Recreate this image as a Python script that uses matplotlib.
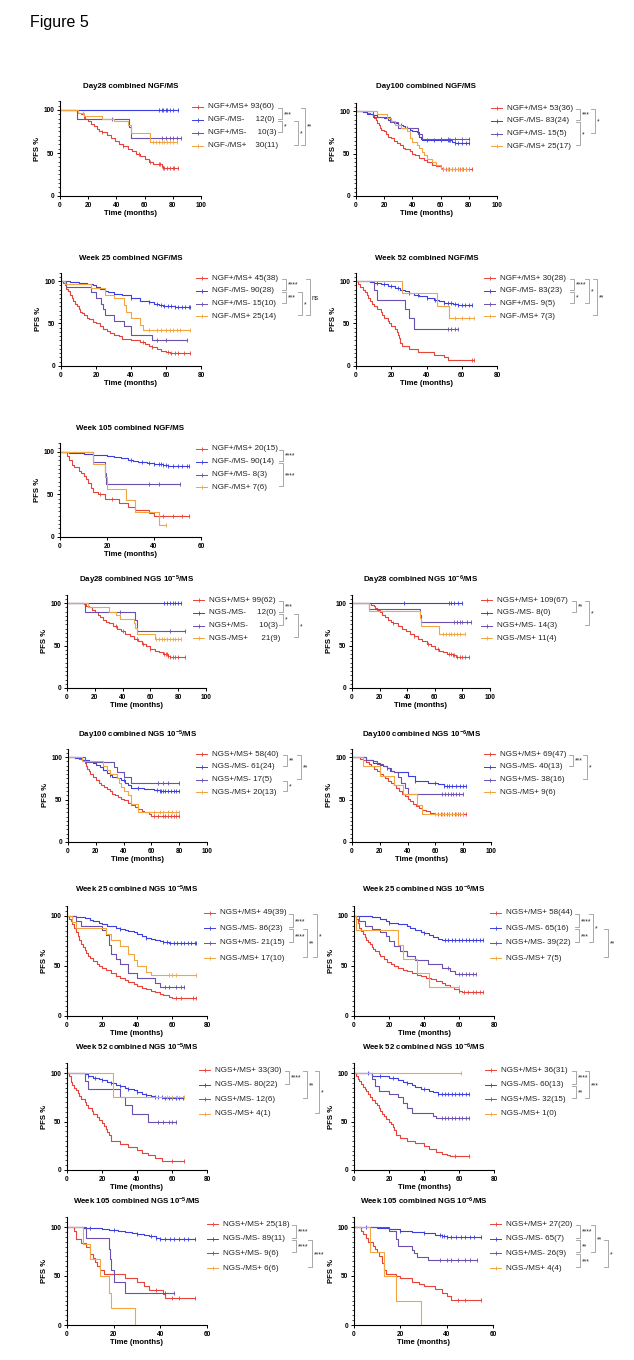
import bisect
import matplotlib
matplotlib.use("Agg")
import matplotlib.pyplot as plt
from matplotlib.ticker import MultipleLocator

plt.rcParams["font.family"] = ["Liberation Sans", "DejaVu Sans"]
plt.rcParams["mathtext.fontset"] = "custom"
plt.rcParams["mathtext.rm"] = "Liberation Sans"
plt.rcParams["mathtext.bf"] = "Liberation Sans:bold"
plt.rcParams["mathtext.default"] = "bf"

W, H = 634, 1360
groups = ["red", "blue", "purple", "orange"]
colors = ["#e8433a", "#3b3fe0", "#6a50b0", "#f2a541"]

########  data: (time, PFS %) after each drop, censor times  ########

d28_ngf_title = "Day28 combined NGF/MS"
d28_ngf_labels = ["NGF+/MS+ 93(60)", "NGF-/MS-     12(0)", "NGF+/MS-     10(3)", "NGF-/MS+    30(11)"]
d28_ngf_red = [(12, 99), (13, 97), (15, 95), (17, 92), (18, 90), (20, 87), (22, 84), (24, 81), (26, 78), (28, 76),
               (30, 74), (33, 71), (36, 67), (39, 64), (42, 61), (45, 58), (48, 55), (51, 52), (54, 49), (57, 46),
               (60, 43), (63, 40), (66, 37), (72, 35), (73, 33), (75, 32)]
d28_ngf_red_c = [17, 30, 45, 56, 64, 70, 71, 72, 73, 74, 76, 78, 80, 81, 84]
d28_ngf_blue = []
d28_ngf_blue_c = [70, 72, 73, 75, 76, 78, 80, 84]
d28_ngf_purple = [(12, 90), (49, 80), (50, 68)]
d28_ngf_purple_c = [37, 72, 75, 78, 80, 83, 86]
d28_ngf_orange = [(13, 97), (17, 93), (30, 90), (38, 87), (48, 83), (50, 73), (64, 63)]
d28_ngf_orange_c = [16, 66, 68, 70, 72, 74, 76, 78, 80, 83]
d28_ngf_sig = [(0, 1, "***"), (1, 2, "*"), (1, 3, "*"), (0, 3, "**")]

d100_ngf_title = "Day100 combined NGF/MS"
d100_ngf_labels = ["NGF+/MS+ 53(36)", "NGF-/MS- 83(24)", "NGF+/MS- 15(5)", "NGF-/MS+ 25(17)"]
d100_ngf_red = [(8, 98), (10, 96), (12, 94), (13, 92), (14, 89), (15, 86), (16, 83), (17, 80), (18, 78), (20, 76),
                (21, 73), (23, 70), (25, 68), (27, 65), (29, 62), (31, 60), (33, 57), (35, 55), (38, 53), (40, 50),
                (42, 48), (45, 45), (48, 42), (50, 40), (54, 37), (57, 35), (60, 33), (61, 32)]
d100_ngf_red_c = [62, 64, 66, 68, 70, 72, 74, 76, 78, 80, 82]
d100_ngf_blue = [(5, 99), (8, 97), (12, 95), (15, 93), (20, 92), (23, 90), (25, 88), (27, 86), (30, 84), (33, 82),
                 (35, 80), (38, 78), (40, 76), (43, 75), (45, 70), (46, 67), (47, 66), (68, 63), (70, 62)]
d100_ngf_blue_c = [28, 32, 36, 50, 55, 60, 65, 66, 67, 70, 72, 75, 78, 80]
d100_ngf_purple = [(12, 93), (24, 87), (30, 80), (44, 73), (47, 67)]
d100_ngf_purple_c = [60, 65, 70, 75, 80]
d100_ngf_orange = [(15, 96), (22, 92), (25, 88), (28, 84), (32, 80), (36, 76), (38, 68), (40, 64), (43, 60), (45, 56),
                   (47, 52), (48, 48), (50, 44), (54, 40), (57, 36), (60, 32)]
d100_ngf_orange_c = [62, 65, 68, 70, 72, 75, 78, 80]
d100_ngf_sig = [(0, 1, "***"), (1, 3, "*"), (0, 2, "*")]

w25_ngf_title = "Week 25 combined NGF/MS"
w25_ngf_labels = ["NGF+/MS+ 45(38)", "NGF-/MS- 90(28)", "NGF+/MS- 15(10)", "NGF-/MS+ 25(14)"]
w25_ngf_red = [(1, 98), (2, 95), (3, 91), (4, 88), (5, 84), (6, 80), (7, 77), (8, 73), (9, 70), (10, 67), (11, 64),
               (12, 62), (13, 60), (15, 57), (16, 55), (18, 52), (20, 50), (22, 47), (24, 44), (26, 41), (28, 39),
               (30, 37), (33, 35), (35, 32), (40, 30), (45, 28), (48, 26), (50, 24), (52, 22), (55, 20), (57, 18),
               (60, 16), (62, 15)]
w25_ngf_red_c = [47, 52, 61, 63, 65, 67, 70, 74]
w25_ngf_blue = [(5, 99), (10, 98), (15, 97), (18, 95), (20, 93), (22, 91), (25, 88), (27, 87), (30, 85), (35, 83),
                (40, 80), (45, 77), (50, 75), (53, 73), (56, 72), (58, 71), (60, 70), (65, 69)]
w25_ngf_blue_c = [30, 40, 50, 55, 57, 59, 61, 63, 65, 67, 69, 71, 73, 74]
w25_ngf_purple = [(3, 93), (17, 87), (20, 80), (23, 73), (24, 67), (25, 60), (30, 53), (36, 47), (40, 37), (52, 30)]
w25_ngf_purple_c = [55, 60, 72]
w25_ngf_orange = [(2, 96), (17, 92), (25, 84), (30, 80), (36, 72), (37, 64), (40, 56), (45, 48), (47, 42)]
w25_ngf_orange_c = [50, 55, 57, 60, 62, 64, 66, 68, 74]
w25_ngf_sig = [(0, 1, "****"), (1, 2, "***"), (1, 3, "*"), (0, 3, "ns")]

w52_ngf_title = "Week 52 combined NGF/MS"
w52_ngf_labels = ["NGF+/MS+ 30(28)", "NGF-/MS- 83(23)", "NGF+/MS- 9(5)", "NGF-/MS+ 7(3)"]
w52_ngf_red = [(1, 97), (2, 93), (4, 90), (5, 87), (6, 83), (7, 80), (8, 77), (9, 73), (10, 70), (12, 67), (14, 63),
               (15, 60), (16, 57), (18, 53), (19, 50), (20, 47), (22, 43), (23, 40), (24, 37), (24.5, 33), (25, 27),
               (26, 23), (30, 20), (35, 17), (44, 13), (50, 10), (52, 7)]
w52_ngf_red_c = [66, 67]
w52_ngf_blue = [(8, 99), (10, 98), (14, 96), (18, 94), (22, 92), (25, 90), (28, 88), (30, 86), (33, 84), (36, 82),
                (40, 80), (44, 78), (47, 76), (50, 74), (55, 73), (58, 72)]
w52_ngf_blue_c = [12, 16, 20, 24, 30, 35, 40, 45, 50, 52, 54, 56, 58, 60, 62, 64, 66]
w52_ngf_purple = [(10, 89), (12, 78), (28, 67), (30, 56), (33, 44)]
w52_ngf_purple_c = [52, 54, 56, 58]
w52_ngf_orange = [(26, 86), (46, 71), (53, 57)]
w52_ngf_orange_c = [56, 60, 64, 67]
w52_ngf_sig = [(0, 1, "****"), (1, 2, "*"), (0, 2, "*"), (0, 3, "**")]

w105_ngf_title = "Week 105 combined NGF/MS"
w105_ngf_labels = ["NGF+/MS+ 20(15)", "NGF-/MS- 90(14)", "NGF+/MS- 8(3)", "NGF-/MS+ 7(6)"]
w105_ngf_red = [(3, 95), (4, 90), (5, 85), (6, 82), (8, 78), (9, 75), (10, 72), (11, 68), (12, 63), (13, 58),
                (14, 53), (16, 50), (19, 45), (25, 40), (29, 35), (32, 32), (38, 28), (40, 25)]
w105_ngf_red_c = [17, 22, 44, 48, 52, 55]
w105_ngf_blue = [(4, 99), (10, 98), (14, 97), (17, 96), (20, 95), (23, 94), (26, 93), (29, 91), (31, 89), (33, 88),
                 (37, 87), (40, 86), (44, 85), (46, 84)]
w105_ngf_blue_c = [30, 35, 38, 40, 42, 43, 44, 45, 46, 48, 50, 52, 54, 55]
w105_ngf_purple = [(14, 88), (19, 75), (19.5, 62)]
w105_ngf_purple_c = [38, 42, 51]
w105_ngf_orange = [(14, 86), (19, 71), (20, 57), (28, 43), (32, 29), (42, 14)]
w105_ngf_orange_c = [45]
w105_ngf_sig = [(0, 1, "****"), (1, 3, "****")]

d28_ngs5_title = "Day28 combined NGS 10$^{-5}$/MS"
d28_ngs5_labels = ["NGS+/MS+ 99(62)", "NGS-/MS-     12(0)", "NGS+/MS-     10(3)", "NGS-/MS+      21(9)"]
d28_ngs5_red = [(12, 99), (14, 97), (16, 95), (18, 92), (20, 89), (22, 86), (24, 83), (26, 80), (28, 78), (30, 76),
                (33, 73), (36, 70), (39, 67), (42, 64), (45, 61), (48, 58), (51, 55), (54, 52), (57, 49), (60, 46),
                (63, 44), (66, 42), (69, 40), (73, 38), (74, 36)]
d28_ngs5_red_c = [35, 40, 50, 55, 60, 70, 71, 72, 73, 74, 76, 78, 80, 85]
d28_ngs5_blue = []
d28_ngs5_blue_c = [70, 72, 74, 76, 78, 80, 82]
d28_ngs5_purple = [(13, 90), (49, 80), (50, 67)]
d28_ngs5_purple_c = [38, 74, 85]
d28_ngs5_orange = [(15, 95), (30, 90), (35, 86), (38, 81), (48, 76), (49, 71), (50, 63), (63, 58)]
d28_ngs5_orange_c = [64, 66, 68, 70, 72, 74, 76, 78, 80, 82]
d28_ngs5_sig = [(0, 1, "***"), (1, 2, "*"), (1, 3, "*")]

d28_ngs6_title = "Day28 combined NGS 10$^{-6}$/MS"
d28_ngs6_labels = ["NGS+/MS+ 109(67)", "NGS-/MS- 8(0)", "NGS+/MS- 14(3)", "NGS-/MS+ 11(4)"]
d28_ngs6_red = [(14, 98), (16, 96), (17, 94), (18, 92), (20, 89), (22, 86), (24, 83), (26, 80), (28, 78), (30, 76),
                (33, 73), (36, 70), (39, 67), (42, 64), (45, 61), (48, 58), (51, 55), (54, 52), (57, 49), (60, 46),
                (63, 44), (66, 42), (69, 40), (73, 39), (75, 37)]
d28_ngs6_red_c = [30, 45, 55, 62, 70, 72, 73, 74, 76, 78, 80, 82, 85]
d28_ngs6_blue = []
d28_ngs6_blue_c = [38, 70, 72, 74, 77, 80]
d28_ngs6_purple = [(12, 93), (49, 86), (50, 78)]
d28_ngs6_purple_c = [74, 76, 78, 80, 83, 86]
d28_ngs6_orange = [(12, 91), (49, 82), (50, 73), (63, 64)]
d28_ngs6_orange_c = [66, 68, 70, 72, 74, 76, 78, 82]
d28_ngs6_sig = [(0, 1, "**"), (0, 2, "*")]

d100_ngs5_title = "Day100 combined NGS 10$^{-5}$/MS"
d100_ngs5_labels = ["NGS+/MS+ 58(40)", "NGS-/MS- 61(24)", "NGS+/MS- 17(5)", "NGS-/MS+ 20(13)"]
d100_ngs5_red = [(8, 98), (10, 96), (12, 93), (13, 90), (14, 86), (15, 83), (16, 80), (18, 77), (20, 73), (22, 70),
                 (24, 67), (26, 65), (28, 62), (30, 60), (32, 57), (34, 55), (36, 53), (38, 51), (40, 49), (43, 46),
                 (45, 43), (48, 41), (50, 39), (53, 37), (55, 35), (58, 33), (60, 31)]
d100_ngs5_red_c = [62, 65, 68, 70, 72, 74, 76, 78, 80]
d100_ngs5_blue = [(5, 99), (10, 97), (15, 95), (18, 93), (20, 91), (23, 88), (25, 85), (28, 81), (30, 79), (32, 77),
                  (35, 75), (38, 73), (41, 70), (43, 67), (45, 64), (55, 62), (62, 61), (66, 60)]
d100_ngs5_blue_c = [30, 40, 50, 64, 66, 67, 68, 70, 72, 74, 76, 78, 80]
d100_ngs5_purple = [(12, 94), (33, 88), (35, 82), (40, 76), (45, 70)]
d100_ngs5_purple_c = [65, 68, 72, 80]
d100_ngs5_orange = [(10, 95), (25, 90), (28, 85), (30, 80), (35, 75), (37, 70), (38, 65), (40, 60), (43, 55),
                    (45, 45), (50, 35)]
d100_ngs5_orange_c = [62, 66, 68, 72, 75, 78, 80]
d100_ngs5_sig = [(0, 1, "**"), (2, 3, "*"), (0, 2, "**")]

d100_ngs6_title = "Day100 combined NGS 10$^{-6}$/MS"
d100_ngs6_labels = ["NGS+/MS+ 69(47)", "NGS-/MS- 40(13)", "NGS+/MS- 38(16)", "NGS-/MS+ 9(6)"]
d100_ngs6_red = [(6, 98), (8, 96), (10, 94), (12, 92), (14, 89), (16, 86), (18, 83), (20, 80), (22, 78), (24, 75),
                 (26, 72), (28, 70), (30, 67), (32, 63), (34, 60), (36, 57), (38, 54), (40, 51), (42, 48), (44, 45),
                 (46, 42), (48, 40), (50, 38), (53, 36), (56, 34), (60, 33)]
d100_ngs6_red_c = [62, 64, 66, 68, 70, 72, 74, 76, 78, 80, 82]
d100_ngs6_blue = [(10, 97), (15, 93), (20, 91), (22, 90), (25, 87), (27, 84), (30, 82), (40, 78), (45, 72), (55, 70),
                  (62, 68), (66, 66)]
d100_ngs6_blue_c = [25, 45, 60, 66, 68, 70, 72, 75, 78, 80, 82]
d100_ngs6_purple = [(10, 97), (15, 95), (18, 92), (22, 90), (25, 87), (28, 84), (30, 82), (33, 76), (35, 70),
                    (38, 63), (40, 57)]
d100_ngs6_purple_c = [65, 67, 69, 71, 73, 75, 77, 80]
d100_ngs6_orange = [(8, 89), (20, 78), (30, 67), (37, 56), (47, 44), (50, 33)]
d100_ngs6_orange_c = [60, 65, 70, 75, 80]
d100_ngs6_sig = [(0, 1, "***"), (0, 2, "*")]

w25_ngs5_title = "Week 25 combined NGS 10$^{-5}$/MS"
w25_ngs5_labels = ["NGS+/MS+ 49(39)", "NGS-/MS- 86(23)", "NGS+/MS- 21(15)", "NGS-/MS+ 17(10)"]
w25_ngs5_red = [(1, 97), (2, 95), (3, 92), (4, 88), (5, 84), (6, 80), (7, 76), (8, 72), (9, 69), (10, 66), (11, 63),
                (12, 60), (13, 58), (15, 55), (17, 52), (18, 50), (20, 48), (22, 46), (25, 43), (28, 40), (30, 38),
                (33, 36), (35, 34), (38, 32), (40, 30), (43, 28), (45, 27), (48, 25), (50, 24), (53, 22), (55, 21),
                (58, 19), (60, 18)]
w25_ngs5_red_c = [62, 65, 72, 74]
w25_ngs5_blue = [(5, 99), (10, 98), (13, 96), (15, 95), (18, 93), (20, 92), (23, 90), (28, 88), (30, 87), (33, 86),
                 (35, 85), (38, 84), (40, 82), (43, 80), (45, 78), (48, 77), (50, 76), (53, 75), (55, 74), (58, 73)]
w25_ngs5_blue_c = [30, 45, 55, 57, 59, 61, 63, 65, 67, 69, 71, 73, 74]
w25_ngs5_purple = [(5, 95), (8, 90), (20, 86), (22, 81), (24, 71), (25, 62), (28, 57), (30, 52), (35, 43), (40, 38),
                   (50, 33), (53, 29)]
w25_ngs5_purple_c = [56, 58, 62, 65, 67]
w25_ngs5_orange = [(3, 94), (5, 88), (22, 82), (25, 76), (30, 70), (35, 62), (38, 56), (40, 50), (45, 44), (48, 41)]
w25_ngs5_orange_c = [58, 60, 62, 74]
w25_ngs5_sig = [(0, 1, "****"), (1, 2, "****"), (1, 3, "**"), (0, 3, "*")]

w25_ngs6_title = "Week 25 combined NGS 10$^{-6}$/MS"
w25_ngs6_labels = ["NGS+/MS+ 58(44)", "NGS-/MS- 65(16)", "NGS+/MS- 39(22)", "NGS-/MS+ 7(5)"]
w25_ngs6_red = [(1, 97), (2, 93), (3, 88), (4, 85), (5, 82), (6, 79), (7, 76), (8, 74), (9, 72), (10, 69), (11, 67),
                (12, 65), (14, 62), (15, 60), (17, 57), (19, 54), (21, 52), (23, 50), (25, 48), (28, 46), (30, 45),
                (33, 43), (36, 41), (38, 40), (41, 38), (44, 37), (47, 35), (50, 33), (52, 31), (55, 29), (57, 27),
                (60, 25), (62, 24)]
w25_ngs6_red_c = [60, 63, 65, 68, 70, 72, 74]
w25_ngs6_blue = [(10, 99), (15, 97), (18, 95), (20, 93), (25, 92), (30, 90), (32, 88), (35, 86), (38, 84), (40, 83),
                 (43, 81), (45, 79), (48, 77), (50, 76)]
w25_ngs6_blue_c = [20, 40, 52, 54, 56, 58, 60, 62, 64, 66, 68, 70, 72, 74]
w25_ngs6_purple = [(3, 95), (6, 90), (10, 87), (15, 84), (18, 80), (20, 75), (23, 70), (26, 65), (30, 60), (35, 56),
                   (42, 52), (50, 48), (55, 45), (58, 42)]
w25_ngs6_purple_c = [54, 60, 62, 64, 66, 68, 70]
w25_ngs6_orange = [(1, 86), (25, 71), (28, 57), (36, 43), (43, 29)]
w25_ngs6_orange_c = [60]
w25_ngs6_sig = [(0, 1, "****"), (1, 2, "***"), (0, 2, "*"), (1, 3, "**")]

w52_ngs5_title = "Week 52 combined NGS 10$^{-5}$/MS"
w52_ngs5_labels = ["NGS+/MS+ 33(30)", "NGS-/MS- 80(22)", "NGS+/MS- 12(6)", "NGS-/MS+ 4(1)"]
w52_ngs5_red = [(1, 97), (2, 91), (3, 88), (4, 85), (5, 82), (6, 79), (7, 76), (8, 73), (10, 70), (11, 67), (12, 64),
                (14, 61), (15, 58), (17, 55), (18, 52), (20, 48), (21, 45), (22, 42), (23, 39), (24, 36), (25, 30),
                (30, 27), (35, 24), (40, 21), (43, 18), (46, 15), (50, 12), (54, 9)]
w52_ngs5_red_c = [60, 67]
w52_ngs5_blue = [(10, 99), (12, 97), (15, 95), (18, 94), (20, 93), (23, 91), (25, 90), (28, 88), (30, 87), (33, 85),
                 (35, 84), (38, 82), (40, 80), (43, 78), (45, 77), (48, 76), (50, 75), (55, 74)]
w52_ngs5_blue_c = [12, 16, 20, 25, 30, 35, 40, 45, 50, 52, 54, 56, 58, 60, 62, 64, 66]
w52_ngs5_purple = [(10, 92), (12, 83), (30, 75), (33, 67), (37, 58), (46, 50)]
w52_ngs5_purple_c = [52, 55, 58, 60, 62]
w52_ngs5_orange = [(26, 75)]
w52_ngs5_orange_c = [57, 60, 63, 67]
w52_ngs5_sig = [(0, 1, "****"), (0, 2, "**"), (0, 3, "*")]

w52_ngs6_title = "Week 52 combined NGS 10$^{-6}$/MS"
w52_ngs6_labels = ["NGS+/MS+ 36(31)", "NGS-/MS- 60(13)", "NGS+/MS- 32(15)", "NGS-/MS+ 1(0)"]
w52_ngs6_red = [(1, 97), (2, 94), (3, 92), (4, 89), (5, 86), (6, 83), (7, 81), (8, 78), (9, 75), (10, 72), (12, 69),
                (13, 67), (14, 64), (15, 61), (16, 58), (17, 56), (18, 53), (20, 50), (21, 47), (22, 44), (23, 41),
                (24, 36), (26, 33), (30, 30), (35, 28), (40, 25), (43, 22), (47, 19), (50, 17), (53, 15), (55, 14)]
w52_ngs6_red_c = [58, 66]
w52_ngs6_blue = [(10, 97), (20, 95), (25, 93), (28, 91), (30, 90), (33, 88), (35, 86), (38, 84), (40, 83), (43, 81),
                 (45, 80), (48, 78)]
w52_ngs6_blue_c = [8, 15, 22, 30, 40, 48, 50, 52, 54, 56, 58, 60, 62, 64, 66]
w52_ngs6_purple = [(10, 94), (12, 87), (14, 81), (20, 78), (25, 75), (28, 69), (30, 64), (33, 59), (45, 56), (47, 54)]
w52_ngs6_purple_c = [50, 52, 54, 56, 58, 60, 62, 64, 66]
w52_ngs6_orange = []
w52_ngs6_orange_c = [61]
w52_ngs6_sig = [(0, 1, "****"), (1, 2, "**"), (0, 2, "***")]

w105_ngs5_title = "Week 105 combined NGS 10$^{-5}$/MS"
w105_ngs5_labels = ["NGS+/MS+ 25(18)", "NGS-/MS- 89(11)", "NGS+/MS- 9(6)", "NGS-/MS+ 6(6)"]
w105_ngs5_red = [(3, 96), (4, 88), (6, 84), (8, 80), (10, 72), (11, 68), (12, 64), (13, 60), (14, 56), (16, 52),
                 (25, 48), (30, 44), (33, 40), (35, 36), (41, 32), (42, 28)]
w105_ngs5_red_c = [20, 38, 45, 48, 55]
w105_ngs5_blue = [(7, 99), (15, 98), (18, 97), (22, 96), (25, 95), (28, 94), (30, 93), (33, 92), (35, 91), (38, 89),
                  (40, 88)]
w105_ngs5_blue_c = [10, 20, 30, 36, 38, 40, 42, 44, 46, 48, 50, 52, 55]
w105_ngs5_purple = [(8, 89), (18, 78), (18.5, 67), (19, 56), (20, 44), (25, 33)]
w105_ngs5_purple_c = [42, 46]
w105_ngs5_orange = [(7, 83), (10, 67), (14, 50), (18, 33), (19, 17), (29, 0)]
w105_ngs5_orange_c = []
w105_ngs5_sig = [(0, 1, "****"), (1, 2, "****"), (1, 3, "****")]

w105_ngs6_title = "Week 105 combined NGS 10$^{-6}$/MS"
w105_ngs6_labels = ["NGS+/MS+ 27(20)", "NGS-/MS- 65(7)", "NGS+/MS- 26(9)", "NGS-/MS+ 4(4)"]
w105_ngs6_red = [(3, 96), (4, 93), (5, 89), (6, 85), (8, 81), (9, 78), (10, 74), (11, 70), (12, 63), (13, 56),
                 (14, 52), (18, 50), (20, 48), (25, 44), (28, 42), (30, 40), (35, 37), (38, 33), (40, 30), (42, 26)]
w105_ngs6_red_c = [45, 48, 55]
w105_ngs6_blue = [(10, 99), (15, 98), (20, 96), (25, 95), (30, 94), (35, 92), (38, 91), (40, 90)]
w105_ngs6_blue_c = [5, 20, 30, 37, 38, 39, 40, 42, 44, 46, 48, 50, 52, 55]
w105_ngs6_purple = [(15, 96), (18, 88), (19, 81), (25, 77), (26, 73), (27, 69), (32, 66)]
w105_ngs6_purple_c = [37, 40, 42, 45, 48, 50, 53]
w105_ngs6_orange = [(7, 75), (13, 50), (18, 25), (29, 0)]
w105_ngs6_orange_c = []
w105_ngs6_sig = [(0, 1, "****"), (1, 2, "**"), (2, 3, "***"), (0, 2, "**"), (1, 3, "*")]

########  layout in pixels: key, xmax, (x0, x1, y100, y0), title y, legend x, bracket x  ########

layout = [
    ("d28_ngf", 100, (60, 201, 110, 196), 87, 208, [282, 282, 298, 305]),
    ("d100_ngf", 100, (356, 497, 111, 196), 87, 507, [580, 580, 595]),
    ("w25_ngf", 80, (61, 201, 281, 366), 258, 212, [286, 286, 302, 310]),
    ("w52_ngf", 80, (356, 497, 281, 366), 258, 500, [574, 574, 589, 597]),
    ("w105_ngf", 60, (60, 201, 452, 537), 428, 212, [283, 283]),
    ("d28_ngs5", 100, (67, 206, 603, 688), 580, 209, [283, 283, 298]),
    ("d28_ngs6", 100, (352, 490, 603, 688), 580, 497, [576, 589]),
    ("d100_ngs5", 100, (68, 207, 757, 842), 735, 212, [287, 287, 301]),
    ("d100_ngs6", 100, (352, 491, 757, 842), 735, 500, [573, 587]),
    ("w25_ngs5", 80, (67, 207, 916, 1016), 889, 220, [293, 293, 307, 317]),
    ("w25_ngs6", 80, (354, 494, 916, 1016), 889, 506, [579, 579, 593, 608]),
    ("w52_ngs5", 80, (67, 207, 1073, 1170), 1047, 215, [289, 307, 319]),
    ("w52_ngs6", 80, (354, 494, 1073, 1170), 1047, 501, [576, 576, 589]),
    ("w105_ngs5", 60, (67, 207, 1227, 1325), 1201, 223, [296, 296, 312]),
    ("w105_ngs6", 60, (354, 493, 1227, 1325), 1201, 506, [580, 580, 580, 595, 608]),
]

fig = plt.figure(figsize=(W / 100, H / 100), dpi=100)
ov = fig.add_axes([0, 0, 1, 1])
ov.set_xlim(0, W)
ov.set_ylim(H, 0)
ov.axis("off")
ov.set_zorder(10)

ov.text(30, 22, "Figure 5", fontsize=11.5, va="center", ha="left")

for key, xmax, box, title_y, leg_x, sig_x in layout:
    x0, x1, y100, y0 = box
    top = y100 - 0.1 * (y0 - y100)
    ax = fig.add_axes([x0 / W, 1 - y0 / H, (x1 - x0) / W, (y0 - top) / H])
    ax.patch.set_visible(False)

    for name, col in zip(groups, colors):
        steps = globals()[key + "_" + name]
        cens = globals()[key + "_" + name + "_c"]
        t = [0] + [p[0] for p in steps]
        s = [100] + [p[1] for p in steps]
        end = max([t[-1]] + cens)
        t.append(end)
        s.append(s[-1])
        ax.step(t, s, where="post", color=col, lw=0.8, clip_on=False)
        cy = [s[bisect.bisect_right(t, c) - 1] for c in cens]
        ax.plot(cens, cy, "|", color=col, ms=2.6, mew=0.6, clip_on=False)

    ax.set_xlim(0, xmax)
    ax.set_ylim(0, 110)
    ax.set_xticks(range(0, xmax + 1, 20))
    ax.set_yticks([0, 50, 100])
    ax.yaxis.set_minor_locator(MultipleLocator(5))
    for sp in ["top", "right"]:
        ax.spines[sp].set_visible(False)
    for sp in ["left", "bottom"]:
        ax.spines[sp].set_linewidth(0.8)
    ax.tick_params(which="major", labelsize=4.7, width=0.7, length=2.5, pad=1.5)
    ax.tick_params(which="minor", width=0.5, length=1.3)
    for lab in ax.get_xticklabels() + ax.get_yticklabels():
        lab.set_fontweight("bold")
    ax.set_xlabel("Time (months)", fontsize=5.6, fontweight="bold", labelpad=1)
    ax.set_ylabel("PFS %", fontsize=5.6, fontweight="bold", labelpad=2)

    ov.text((x0 + x1) / 2, title_y, globals()[key + "_title"], ha="center", va="center",
            fontsize=5.7, fontweight="bold")

    # legend
    gap = 0.15 * (y0 - y100)
    rows = [y100 - 3 + i * gap for i in range(4)]
    for ry, lab, col in zip(rows, globals()[key + "_labels"], colors):
        ov.plot([leg_x - 16, leg_x - 5], [ry, ry], color=col, lw=0.7)
        ov.plot([leg_x - 10.5], [ry], "|", color=col, ms=2.6, mew=0.6)
        ov.text(leg_x, ry, lab, fontsize=5.8, va="center", ha="left", color="#222222")

    # significance brackets
    for (i, j, lab), xv in zip(globals()[key + "_sig"], sig_x):
        ya = rows[i] + 1
        yb = rows[j] - 1
        ov.plot([xv - 4, xv, xv, xv - 4], [ya, ya, yb, yb], color="#9a9a9a", lw=0.6)
        ov.text(xv + 1.5, (ya + yb) / 2 + 1, lab, fontsize=4.8, va="center", ha="left", color="#222222")

fig.savefig("out.png", dpi=100)
plt.close()
